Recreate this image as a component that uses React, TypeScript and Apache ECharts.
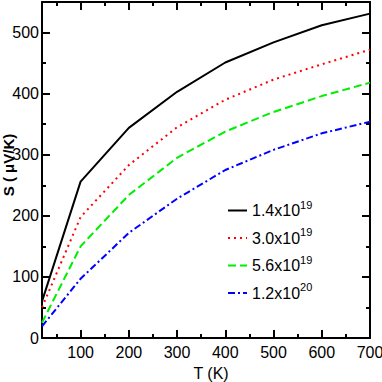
import React, { useEffect, useRef } from "react";
import * as echarts from "echarts";

const temperatures = [20, 100, 200, 300, 400, 500, 600, 700];
const seebeck14e19 = [60, 256, 344, 403, 451, 484, 512, 531];
const seebeck30e19 = [50, 198, 283, 345, 390, 423, 448, 472];
const seebeck56e19 = [25, 150, 234, 295, 338, 370, 396, 418];
const seebeck12e20 = [19, 97, 172, 228, 275, 308, 335, 354];

const seriesMantissa = ["1.4", "3.0", "5.6", "1.2"];
const seriesExponent = ["19", "19", "19", "20"];

const xMajorTicks = [100, 200, 300, 400, 500, 600, 700];
const xMinorTicks = [50, 150, 250, 350, 450, 550, 650];
const yMajorTicks = [0, 100, 200, 300, 400, 500];
const yMinorTicks = [50, 150, 250, 350, 450];

const X_MIN = 20;
const X_MAX = 700;
const Y_MIN = 0;
const Y_MAX = 550;

const FONT = "'Liberation Sans', Arial, Helvetica, sans-serif";

function axisDef(
  kind: "x" | "y",
  position: string,
  ticks: number[],
  tickLen: number,
  withLabel: boolean,
  withLine: boolean,
  extra: any = {}
) {
  return {
    type: "value",
    gridIndex: 0,
    position,
    min: kind === "x" ? X_MIN : Y_MIN,
    max: kind === "x" ? X_MAX : Y_MAX,
    splitLine: { show: false },
    axisLine: { show: withLine, onZero: false, lineStyle: { color: "#000", width: 2 } },
    axisTick: {
      show: true,
      inside: true,
      length: tickLen,
      customValues: ticks,
      lineStyle: { color: "#000", width: 2 },
    },
    axisLabel: withLabel
      ? {
          show: true,
          customValues: ticks,
          color: "#000",
          fontFamily: FONT,
          fontSize: 16,
          margin: kind === "x" ? 6 : 3,
        }
      : { show: false },
    ...extra,
  };
}

export default function App() {
  const ref = useRef<HTMLDivElement>(null);

  useEffect(() => {
    if (!ref.current) return;
    const chart = echarts.init(ref.current, null, { renderer: "svg" });
    const data = [seebeck14e19, seebeck30e19, seebeck56e19, seebeck12e20];
    const colors = ["#000000", "#ff0000", "#00ee00", "#0000ff"];
    const types: any[] = ["solid", [2, 4], [8, 4], [7, 3, 2, 3]];
    const names = seriesMantissa.map((m, i) => `${m}x10^${seriesExponent[i]}`);

    chart.setOption({
      animation: false,
      backgroundColor: "#fff",
      grid: {
        left: 42,
        right: 12,
        top: 2,
        bottom: 44,
        containLabel: false,
        outerBoundsMode: "none",
      },
      xAxis: [
        axisDef("x", "bottom", xMajorTicks, 8, true, true, {
          name: "T (K)",
          nameLocation: "middle",
          nameGap: 27,
          nameMoveOverlap: false,
          nameTextStyle: {
            color: "#000",
            fontFamily: FONT,
            fontSize: 16,
            padding: [0, 0, 0, 10],
          },
        }),
        axisDef("x", "bottom", xMinorTicks, 4, false, false),
        axisDef("x", "top", xMajorTicks, 8, false, true),
        axisDef("x", "top", xMinorTicks, 4, false, false),
      ],
      yAxis: [
        axisDef("y", "left", yMajorTicks, 8, true, true, {
          name: "S ( \u03bcV/K)",
          nameLocation: "middle",
          nameGap: 26,
          nameMoveOverlap: false,
          nameTextStyle: {
            color: "#000",
            fontFamily: FONT,
            fontWeight: "bold",
            fontSize: 15,
            padding: [0, 0, 0, 10],
          },
        }),
        axisDef("y", "left", yMinorTicks, 4, false, false),
        axisDef("y", "right", yMajorTicks, 8, false, true),
        axisDef("y", "right", yMinorTicks, 4, false, false),
      ],
      legend: {
        orient: "vertical",
        left: 227,
        top: 199,
        padding: 0,
        itemGap: 8,
        itemWidth: 19,
        itemHeight: 14,
        data: names,
        itemStyle: { opacity: 0 },
        formatter: (name: string) => {
          const [base, exp] = name.split("^");
          return `${base}{sup|${exp}}`;
        },
        textStyle: {
          color: "#000",
          fontFamily: FONT,
          fontSize: 16,
          rich: {
            sup: { fontSize: 11, fontFamily: FONT, color: "#000", padding: [0, 0, 12, 0] },
          },
        },
      },
      series: data.map((d, i) => ({
        type: "line",
        name: names[i],
        xAxisIndex: 0,
        yAxisIndex: 0,
        data: temperatures.map((t, j) => [t, d[j]]),
        symbol: "none",
        smooth: false,
        lineStyle: { color: colors[i], width: 2, type: types[i] },
        itemStyle: { color: colors[i] },
      })),
    });
    return () => chart.dispose();
  }, []);

  return (
    <div
      ref={ref}
      style={{ position: "fixed", left: 0, top: 0, width: 382, height: 382 }}
    />
  );
}
